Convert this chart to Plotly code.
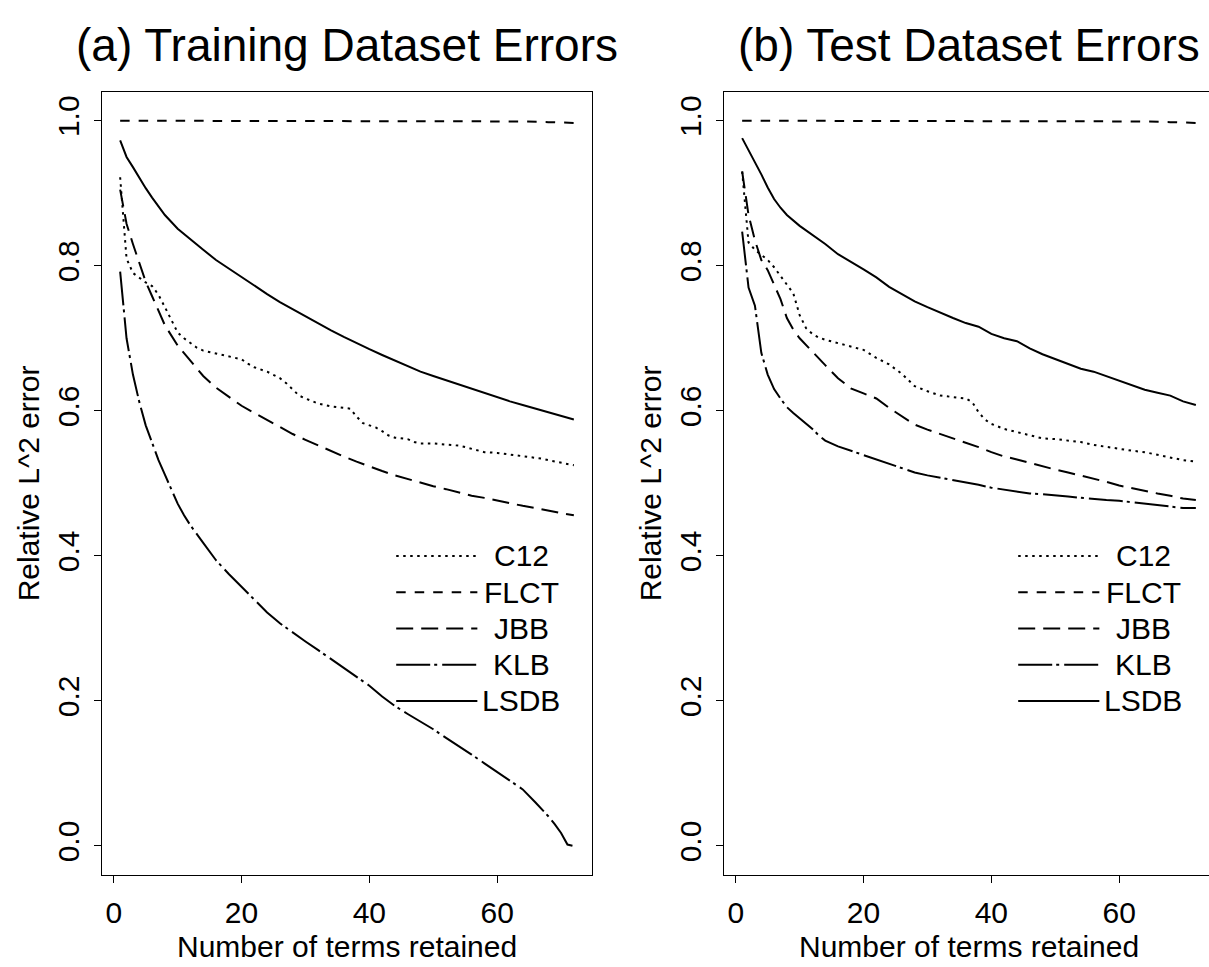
import plotly.graph_objects as go

# ---------------- data ----------------
series_names = ["C12", "FLCT", "JBB", "KLB", "LSDB"]

x_flct = [1, 10, 20, 30, 40, 50, 60, 64, 68, 72]
x_smooth = [1, 2, 3, 4, 5, 6, 7, 8, 10, 12, 14, 16, 18, 20, 22, 24, 26, 28, 30, 32,
            34, 36, 38, 40, 42, 44, 46, 48, 50, 52, 54, 56, 58, 60, 62, 64, 66, 68, 70, 72]

# (a) Training dataset
train_flct = [1.0, 1.0, 1.0, 1.0, 1.0, 1.0, 0.9995, 0.999, 0.998, 0.997]
train_lsdb = [0.973, 0.950, 0.936, 0.921, 0.907, 0.894, 0.882, 0.870, 0.851, 0.836,
              0.822, 0.808, 0.796, 0.784, 0.772, 0.761, 0.750, 0.740, 0.730, 0.720,
              0.711, 0.702, 0.693, 0.685, 0.677, 0.669, 0.661, 0.654, 0.648, 0.642,
              0.636, 0.630, 0.624, 0.619, 0.613, 0.608, 0.603, 0.598, 0.593, 0.588]
train_jbb = [0.905, 0.858, 0.830, 0.803, 0.778, 0.758, 0.738, 0.718, 0.690, 0.669,
             0.648, 0.632, 0.619, 0.607, 0.597, 0.587, 0.577, 0.568, 0.560, 0.552,
             0.545, 0.537, 0.530, 0.523, 0.517, 0.511, 0.506, 0.500, 0.496, 0.492,
             0.487, 0.483, 0.480, 0.476, 0.472, 0.469, 0.466, 0.462, 0.459, 0.456]
train_x_c12 = [1, 2, 3, 4, 5, 6, 7, 8, 9, 10, 11, 12, 13, 14, 16, 18, 20, 21, 22, 24,
               26, 27, 28, 29, 30, 32, 34, 36, 37, 38, 39, 40, 41, 42, 43, 44, 46, 47,
               48, 50, 52, 54, 55, 56, 57, 58, 60, 62, 64, 66, 67, 68, 70, 71, 72]
train_c12 = [0.922, 0.810, 0.790, 0.783, 0.777, 0.772, 0.760, 0.743, 0.725, 0.708,
             0.700, 0.693, 0.687, 0.683, 0.679, 0.676, 0.671, 0.665, 0.660, 0.654,
             0.645, 0.638, 0.630, 0.621, 0.617, 0.610, 0.606, 0.604, 0.603, 0.592,
             0.583, 0.580, 0.577, 0.572, 0.566, 0.563, 0.561, 0.557, 0.555, 0.555,
             0.554, 0.552, 0.550, 0.548, 0.545, 0.543, 0.542, 0.540, 0.538, 0.536,
             0.534, 0.532, 0.529, 0.527, 0.525]
train_x_klb = [1, 2, 3, 4, 5, 6, 7, 8, 9, 10, 11, 12, 14, 16, 18, 20, 22, 24, 26, 28,
               30, 32, 34, 36, 38, 40, 42, 44, 46, 48, 50, 52, 54, 56, 58, 60, 62, 64,
               66, 67, 68, 69, 70, 71, 72]
train_klb = [0.792, 0.700, 0.650, 0.612, 0.580, 0.555, 0.532, 0.512, 0.492, 0.472,
             0.456, 0.442, 0.418, 0.394, 0.375, 0.357, 0.339, 0.322, 0.307, 0.294,
             0.282, 0.270, 0.258, 0.246, 0.234, 0.221, 0.206, 0.193, 0.182, 0.172,
             0.161, 0.149, 0.138, 0.126, 0.114, 0.102, 0.090, 0.078, 0.060, 0.051,
             0.041, 0.030, 0.018, 0.002, 0.000]

# (b) Test dataset
test_flct = [1.0, 1.0, 1.0, 1.0, 1.0, 1.0, 0.9995, 0.999, 0.998, 0.997]
test_lsdb = [0.976, 0.960, 0.943, 0.926, 0.908, 0.892, 0.880, 0.870, 0.855, 0.843,
             0.830, 0.816, 0.806, 0.795, 0.784, 0.771, 0.761, 0.751, 0.743, 0.735,
             0.728, 0.721, 0.716, 0.706, 0.700, 0.696, 0.686, 0.678, 0.671, 0.664,
             0.658, 0.654, 0.648, 0.642, 0.636, 0.629, 0.625, 0.621, 0.613, 0.608]
test_x_jbb = [1, 2, 3, 4, 5, 6, 7, 8, 9, 10, 12, 14, 16, 18, 20, 22, 24, 26, 28, 30,
              32, 34, 36, 38, 40, 42, 44, 46, 48, 50, 52, 54, 56, 58, 60, 62, 64, 66,
              68, 70, 72]
test_jbb = [0.930, 0.870, 0.835, 0.808, 0.794, 0.775, 0.754, 0.728, 0.712, 0.700,
            0.681, 0.663, 0.645, 0.631, 0.624, 0.617, 0.604, 0.592, 0.581, 0.574,
            0.568, 0.563, 0.557, 0.550, 0.543, 0.537, 0.533, 0.528, 0.523, 0.519,
            0.515, 0.511, 0.506, 0.502, 0.497, 0.493, 0.489, 0.486, 0.483, 0.479,
            0.477]
test_x_c12 = [1, 2, 3, 4, 5, 6, 7, 8, 9, 10, 11, 12, 13, 14, 16, 18, 20, 22, 24, 26,
              27, 28, 30, 32, 34, 36, 37, 38, 39, 40, 42, 44, 46, 48, 50, 52, 54, 56,
              58, 60, 62, 64, 66, 68, 70, 72]
test_c12 = [0.930, 0.832, 0.822, 0.815, 0.808, 0.798, 0.786, 0.773, 0.762, 0.732,
            0.714, 0.706, 0.701, 0.698, 0.693, 0.689, 0.684, 0.673, 0.664, 0.651,
            0.643, 0.634, 0.627, 0.621, 0.619, 0.617, 0.612, 0.598, 0.588, 0.582,
            0.575, 0.571, 0.566, 0.562, 0.561, 0.559, 0.557, 0.553, 0.550, 0.547,
            0.545, 0.543, 0.539, 0.535, 0.532, 0.530]
test_x_klb = [1, 2, 3, 4, 5, 6, 7, 8, 9, 10, 11, 12, 13, 14, 16, 18, 20, 22, 24, 26,
              28, 30, 32, 34, 36, 38, 40, 42, 44, 46, 48, 50, 52, 54, 56, 58, 60, 62,
              64, 66, 68, 70, 72]
test_klb = [0.847, 0.770, 0.745, 0.680, 0.650, 0.630, 0.617, 0.605, 0.597, 0.590,
            0.583, 0.575, 0.566, 0.559, 0.551, 0.545, 0.539, 0.532, 0.526, 0.520,
            0.515, 0.511, 0.508, 0.505, 0.501, 0.498, 0.494, 0.491, 0.488, 0.486,
            0.485, 0.484, 0.482, 0.480, 0.478, 0.477, 0.476, 0.474, 0.472, 0.470,
            0.468, 0.466, 0.466]

panel_titles = ["(a) Training Dataset Errors", "(b) Test Dataset Errors"]
x_label = "Number of terms retained"
y_label = "Relative L^2 error"
x_ticks = [0, 20, 40, 60]
y_ticks = [0.0, 0.2, 0.4, 0.6, 0.8, 1.0]

# ---------------- styles ----------------
FONT = "Liberation Sans, Arial, Helvetica, sans-serif"
LW = 2
dashes = {
    "C12": "2.5px,4.5px",
    "FLCT": "9.5px,9px",
    "JBB": "17px,8px",
    "KLB": "34px,4px,3px,5px",
    "LSDB": "solid",
}

W, H = 1209, 967
# pixel geometry of the plot boxes
L0, L1 = 102, 592
R0 = 724
TOP, BOT = 91.7, 875
XR = [-1.84, 74.84]
PPU = (L1 - L0) / (XR[1] - XR[0])
XR2 = [XR[0], XR[0] + (W - R0) / PPU]
YR = [-0.04, 1.04]

fig = go.Figure()

panels = [
    ("x", "y", {
        "C12": (train_x_c12, train_c12), "FLCT": (x_flct, train_flct),
        "JBB": (x_smooth, train_jbb), "KLB": (train_x_klb, train_klb),
        "LSDB": (x_smooth, train_lsdb)}),
    ("x2", "y2", {
        "C12": (test_x_c12, test_c12), "FLCT": (x_flct, test_flct),
        "JBB": (test_x_jbb, test_jbb), "KLB": (test_x_klb, test_klb),
        "LSDB": (x_smooth, test_lsdb)}),
]

for xa, ya, data in panels:
    for name in series_names:
        xs, ys = data[name]
        fig.add_trace(go.Scatter(
            x=xs, y=ys, mode="lines", name=name, xaxis=xa, yaxis=ya,
            line=dict(color="black", width=LW, dash=dashes[name]),
            showlegend=False))

ydom = [(H - BOT) / H, (H - TOP) / H]
axis_common = dict(
    showgrid=False, zeroline=False, showline=True, linecolor="black", linewidth=1.3,
    ticks="outside", ticklen=7, tickwidth=1.2, tickcolor="black",
    tickfont=dict(family=FONT, size=30, color="black"),
)
fig.update_layout(
    width=W, height=H, margin=dict(l=0, r=0, t=0, b=0),
    paper_bgcolor="white", plot_bgcolor="white", showlegend=False,
    xaxis=dict(domain=[L0 / W, L1 / W], range=XR, tickvals=x_ticks, mirror=True,
               anchor="y", ticklabelstandoff=4, **axis_common),
    yaxis=dict(domain=ydom, range=YR, tickvals=y_ticks,
               ticktext=[f"{v:.1f}" for v in y_ticks], tickangle=-90, mirror=True,
               anchor="x", ticklabelstandoff=3, **axis_common),
    xaxis2=dict(domain=[R0 / W, 1.0], range=XR2, tickvals=x_ticks, mirror=True,
                anchor="y2", ticklabelstandoff=4, **axis_common),
    yaxis2=dict(domain=ydom, range=YR, tickvals=y_ticks,
                ticktext=[f"{v:.1f}" for v in y_ticks], tickangle=-90, mirror=False,
                anchor="x2", ticklabelstandoff=3, **axis_common),
)

# titles and axis labels
centers = [(L0 + L1) / 2, R0 + (L1 - L0) / 2]
for i, cx in enumerate(centers):
    fig.add_annotation(text=panel_titles[i], xref="paper", yref="paper",
                       x=cx / W, y=(H - 45) / H, xanchor="center", yanchor="middle",
                       showarrow=False, font=dict(family=FONT, size=46, color="black"))
    fig.add_annotation(text=x_label, xref="paper", yref="paper",
                       x=cx / W, y=(H - 946) / H, xanchor="center", yanchor="middle",
                       showarrow=False, font=dict(family=FONT, size=30, color="black"))
    left = L0 if i == 0 else R0
    fig.add_annotation(text=y_label, xref="paper", yref="paper",
                       x=(left - 74) / W, y=(H - (TOP + BOT) / 2) / H,
                       xanchor="center", yanchor="middle", textangle=-90,
                       showarrow=False, font=dict(family=FONT, size=30, color="black"))

# legends (one per panel, placed in each panel's data space)
LEG_X0, LEG_X1, LEG_TX = 44.2, 56.9, 63.8
LEG_Y = [0.40, 0.35, 0.30, 0.25, 0.20]
for xa, ya, _ in panels:
    for name, yy in zip(series_names, LEG_Y):
        fig.add_shape(type="line", xref=xa, yref=ya, x0=LEG_X0, x1=LEG_X1, y0=yy, y1=yy,
                      line=dict(color="black", width=LW, dash=dashes[name]))
        fig.add_annotation(text=name, xref=xa, yref=ya, x=LEG_TX, y=yy,
                           xanchor="center", yanchor="middle", showarrow=False,
                           font=dict(family=FONT, size=30, color="black"))

fig.write_html("out.html")
